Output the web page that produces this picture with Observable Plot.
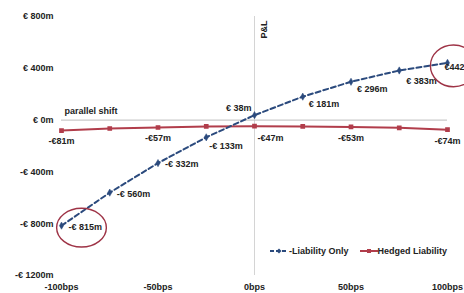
<!DOCTYPE html>
<html>
<head>
<meta charset="utf-8">
<script src="https://cdn.jsdelivr.net/npm/d3@7"></script>
<script src="https://cdn.jsdelivr.net/npm/@observablehq/plot@0.6"></script>
<style>
  html, body { margin: 0; padding: 0; background: #fff; }
  #wrap { position: relative; width: 464px; height: 293px; overflow: hidden; font-family: "Liberation Sans", Arial, sans-serif; }
  #legend { position: absolute; left: 269px; top: 246px; font-size: 9px; font-weight: bold; color: #222; display: flex; align-items: center; white-space: nowrap; }
  #legend span.item { display: inline-flex; align-items: center; }
  #legend svg { display: block; }
</style>
</head>
<body>
<div id="wrap"></div>
<script>
// ---- data ----
const shifts = [-100, -75, -50, -25, 0, 25, 50, 75, 100];           // bps
const liabilityOnly = [-815, -560, -332, -133, 38, 181, 296, 383, 442]; // € m
const hedgedLiability = [-81, -65, -57, -49, -47, -49, -53, -60, -74];  // € m
const yTicks = [800, 400, 0, -400, -800, -1200];
const xTicks = [-100, -50, 0, 50, 100];
const seriesNames = ["Liability Only", "Hedged Liability"];
const hedgedLabelShifts = [-100, -50, 0, 50, 100];
const highlighted = [[-100, -815], [100, 442]];

const navy = "#2b4a7d";
const red = "#b13d4b";
const ring = "#9e3346";

const liab = shifts.map((x, i) => ({x, y: liabilityOnly[i]}));
const hedg = shifts.map((x, i) => ({x, y: hedgedLiability[i]}));
const hedgLab = hedg.filter(d => hedgedLabelShifts.includes(d.x));
const rings = highlighted.map(([x, y]) => ({x, y}));

const eur = v => (v < 0 ? "-€ " + (-v) : "€ " + v) + "m";
const eurTight = v => (v < 0 ? "-€" + (-v) : "€" + v) + "m";

const txt = {fill: "#222", fontSize: 9, fontWeight: "bold"};
const pick = (arr, xs) => arr.filter(d => xs.includes(d.x));

const chart = Plot.plot({
  width: 464,
  height: 293,
  marginLeft: 61,
  marginRight: 17,
  marginTop: 16,
  marginBottom: 18,
  style: {fontFamily: "Liberation Sans, Arial, sans-serif", fontSize: "9px", fontWeight: "bold", color: "#222", background: "transparent", overflow: "visible"},
  x: {domain: [-100, 100], ticks: xTicks, tickFormat: d => d + "bps", tickSize: 0, tickPadding: 8, label: null},
  y: {domain: [-1200, 800], ticks: yTicks, tickFormat: eur, tickSize: 0, tickPadding: 8, label: null},
  marks: [
    Plot.ruleX([0], {y1: -1200, y2: 800, stroke: "#d4d4d4", strokeWidth: 1}),
    Plot.ruleY([0], {x1: -100, x2: 100, stroke: "#bdbdbd", strokeWidth: 1}),
    Plot.text(["parallel shift"], {x: -100, y: 0, text: d => d, textAnchor: "start", dx: 3, dy: -9, ...txt}),
    Plot.text(["P&L"], {x: 0, y: 800, text: d => d, rotate: -90, dx: 10, dy: 13, ...txt}),
    // hedged
    Plot.line(hedg, {x: "x", y: "y", stroke: red, strokeWidth: 2}),
    Plot.dot(hedg, {x: "x", y: "y", symbol: "square", r: 1.8, fill: red, stroke: red}),
    // liability only
    Plot.line(liab, {x: "x", y: "y", stroke: navy, strokeWidth: 2, strokeDasharray: "5,3"}),
    Plot.dot(liab, {x: "x", y: "y", symbol: "diamond", r: 2.2, fill: navy, stroke: navy, strokeWidth: 0.5}),
    // liability labels
    Plot.text(pick(liab, [-100, -75, -50]), {x: "x", y: "y", text: d => eur(d.y), textAnchor: "start", dx: 7, dy: 1, ...txt}),
    Plot.text(pick(liab, [-25]), {x: "x", y: "y", text: d => eur(d.y), textAnchor: "start", dx: 3, dy: 9, ...txt}),
    Plot.text(pick(liab, [0]), {x: "x", y: "y", text: d => eur(d.y), textAnchor: "end", dx: -3, dy: -7, ...txt}),
    Plot.text(pick(liab, [25, 50]), {x: "x", y: "y", text: d => eur(d.y), textAnchor: "start", dx: 6, dy: 7, ...txt}),
    Plot.text(pick(liab, [75]), {x: "x", y: "y", text: d => eur(d.y), textAnchor: "start", dx: 7, dy: 11, ...txt}),
    Plot.text(pick(liab, [100]), {x: "x", y: "y", text: d => eur(d.y).replace("€ ", "€"), textAnchor: "start", dx: -3, dy: 4, ...txt}),
    // hedged labels
    Plot.text(pick(hedgLab, [-100, -50, 50, 100]), {x: "x", y: "y", text: d => eurTight(d.y), dy: 11, ...txt}),
    Plot.text(pick(hedgLab, [0]), {x: "x", y: "y", text: d => eurTight(d.y), textAnchor: "start", dx: 3, dy: 12, ...txt}),
    // highlight rings
    Plot.dot(rings, {x: "x", y: "y", r: 22, stroke: ring, strokeWidth: 1.4, fill: "none"})
  ]
});

// turn the rings into ellipses (placed beside their points)
const ringShape = [{dx: 20, dy: 2, sx: 1.13, sy: 0.88}, {dx: 6, dy: 3, sx: 1.05, sy: 0.95}];
const ringEls = Array.from(chart.querySelectorAll("circle")).filter(c => +c.getAttribute("r") === 22);
ringEls.forEach((c, i) => {
  const s = ringShape[i];
  let cx = c.getAttribute("cx"), cy = c.getAttribute("cy");
  if (cx == null) {
    // position given via transform
    const m = /translate\(([-\d.]+),\s*([-\d.]+)\)/.exec(c.getAttribute("transform") || "");
    cx = m ? +m[1] : 0; cy = m ? +m[2] : 0;
    c.removeAttribute("transform");
  }
  cx = +cx; cy = +cy;
  const e = document.createElementNS("http://www.w3.org/2000/svg", "ellipse");
  e.setAttribute("cx", cx + s.dx);
  e.setAttribute("cy", cy + s.dy);
  e.setAttribute("rx", 22 * s.sx);
  e.setAttribute("ry", 22 * s.sy);
  e.setAttribute("fill", "none");
  e.setAttribute("stroke", ring);
  e.setAttribute("stroke-width", 1.4);
  c.parentNode.replaceChild(e, c);
});

const wrap = document.getElementById("wrap");
wrap.appendChild(chart);

// legend
const legend = document.createElement("div");
legend.id = "legend";
legend.innerHTML =
  `<span class="item"><svg width="20" height="8"><line x1="1" y1="4" x2="19" y2="4" stroke="${navy}" stroke-width="2" stroke-dasharray="4,2"/><path d="M10,1.5L12.5,4L10,6.5L7.5,4Z" fill="${navy}"/></svg><span>-${seriesNames[0]}</span></span>` +
  `<span class="item" style="margin-left:11px"><svg width="18" height="8"><line x1="0" y1="4" x2="18" y2="4" stroke="${red}" stroke-width="2"/><rect x="7" y="2" width="4" height="4" fill="${red}"/></svg><span>${seriesNames[1]}</span></span>`;
wrap.appendChild(legend);
</script>
</body>
</html>
